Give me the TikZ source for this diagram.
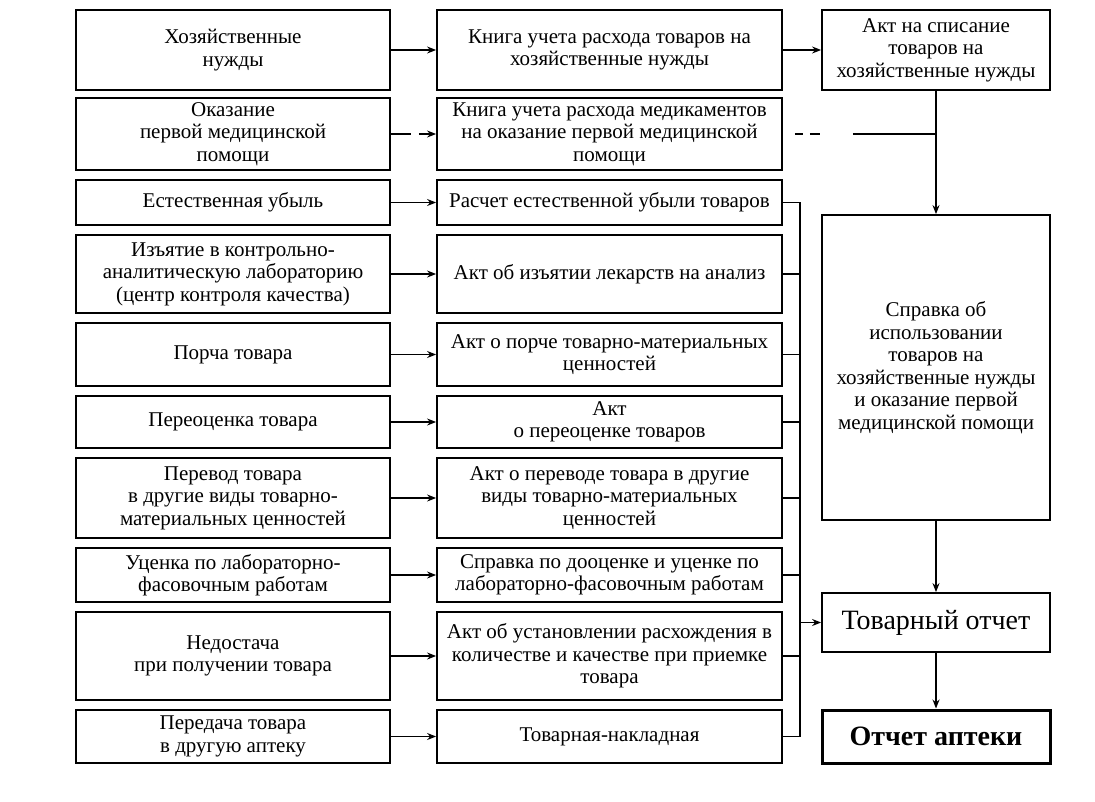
\documentclass[tikz,border=0pt]{standalone}
\usepackage{fontspec}
\setmainfont{Liberation Serif}
\usepackage{tikz}
\usetikzlibrary{arrows.meta}

\begin{document}
\begin{tikzpicture}[x=1pt,y=-1pt,
    box/.style={draw, line width=1.8pt, align=center, inner sep=0pt,
                font=\fontsize{21}{22.5}\selectfont},
    lcol/.style={box, minimum width=314pt},
    mcol/.style={box, minimum width=345pt},
    rcol/.style={box, minimum width=228pt},
    arr/.style={-{Stealth[length=9pt,width=7pt]}, line width=1.3pt},
    link/.style={line width=1.3pt},
    dashlink/.style={line width=1.3pt, dash pattern=on 0pt off 12pt on 8pt off 7pt on 10pt off 33pt on 90pt}]
    \useasboundingbox (0,0) rectangle (1095,801);
    % sources
    \node[lcol, minimum height=80pt] (src1) at (233,50) {Хозяйственные\\нужды};
    \node[lcol, minimum height=72pt] (src2) at (233,134) {Оказание\\первой медицинской\\помощи};
    \node[lcol, minimum height=45pt] (src3) at (233,202.5) {Естественная убыль};
    \node[lcol, minimum height=78pt] (src4) at (233,274) {Изъятие в контрольно-\\аналитическую лабораторию\\(центр контроля качества)};
    \node[lcol, minimum height=63pt] (src5) at (233,354.5) {Порча товара};
    \node[lcol, minimum height=52pt] (src6) at (233,422) {Переоценка товара};
    \node[lcol, minimum height=80pt] (src7) at (233,498) {Перевод товара\\в другие виды товарно-\\материальных ценностей};
    \node[lcol, minimum height=54pt] (src8) at (233,575) {Уценка по лабораторно-\\фасовочным работам};
    \node[lcol, minimum height=88pt] (src9) at (233,656) {Недостача\\при получении товара};
    \node[lcol, minimum height=53pt] (src10) at (233,736.5) {Передача товара\\в другую аптеку};
    % documents
    \node[mcol, minimum height=80pt] (doc1) at (609.5,50) {Книга учета расхода товаров на\\хозяйственные нужды};
    \node[mcol, minimum height=72pt] (doc2) at (609.5,134) {Книга учета расхода медикаментов\\на оказание первой медицинской\\помощи};
    \node[mcol, minimum height=45pt] (doc3) at (609.5,202.5) {Расчет естественной убыли товаров};
    \node[mcol, minimum height=78pt] (doc4) at (609.5,274) {Акт об изъятии лекарств на анализ};
    \node[mcol, minimum height=63pt] (doc5) at (609.5,354.5) {Акт о порче товарно-материальных\\ценностей};
    \node[mcol, minimum height=52pt] (doc6) at (609.5,422) {Акт\\о переоценке товаров};
    \node[mcol, minimum height=80pt] (doc7) at (609.5,498) {Акт о переводе товара в другие\\виды товарно-материальных\\ценностей};
    \node[mcol, minimum height=54pt] (doc8) at (609.5,575) {Справка по дооценке и уценке по\\лабораторно-фасовочным работам};
    \node[mcol, minimum height=88pt] (doc9) at (609.5,656) {Акт об установлении расхождения в\\количестве и качестве при приемке\\товара};
    \node[mcol, minimum height=53pt] (doc10) at (609.5,736.5) {Товарная-накладная};
    % reports
    \node[rcol, minimum height=80pt] (akt) at (936,50) {Акт на списание\\товаров на\\хозяйственные нужды};
    \node[rcol, minimum height=305pt] (spravka) at (936,367.5) {Справка об\\использовании\\товаров на\\хозяйственные нужды\\и оказание первой\\медицинской помощи};
    \node[rcol, minimum height=59pt, font=\fontsize{28}{30}\selectfont] (tovotch) at (936,622.5) {Товарный отчет};
    \node[rcol, minimum height=53pt, line width=3pt, font=\fontsize{28}{30}\selectfont\bfseries] (otchet) at (936,736.5) {Отчет аптеки};
    % arrows to documents
    \draw[arr] (src1) -- (doc1);
    \draw[arr, dash pattern=on 20pt off 8pt on 30pt] (src2) -- (doc2);
    \draw[arr] (src3) -- (doc3);
    \draw[arr] (src4) -- (doc4);
    \draw[arr] (src5) -- (doc5);
    \draw[arr] (src6) -- (doc6);
    \draw[arr] (src7) -- (doc7);
    \draw[arr] (src8) -- (doc8);
    \draw[arr] (src9) -- (doc9);
    \draw[arr] (src10) -- (doc10);
    % collecting line
    \coordinate (bustop) at (800,202.5);
    \coordinate (busbot) at (800,736.5);
    \draw[link] (doc3.east) -- (bustop) -- (busbot) -- (doc10.east);
    \draw[link] (doc4.east) -- (doc4.east -| bustop);
    \draw[link] (doc5.east) -- (doc5.east -| bustop);
    \draw[link] (doc6.east) -- (doc6.east -| bustop);
    \draw[link] (doc7.east) -- (doc7.east -| bustop);
    \draw[link] (doc8.east) -- (doc8.east -| bustop);
    \draw[link] (doc9.east) -- (doc9.east -| bustop);
    \draw[arr] (bustop |- tovotch) -- (tovotch.west);
    % right column
    \draw[arr] (doc1) -- (akt);
    \draw[arr] (akt) -- (spravka);
    \draw[dashlink] (doc2.east) -- (doc2.east -| akt.south);
    \draw[arr] (spravka) -- (tovotch);
    \draw[arr] (tovotch) -- (otchet);
\end{tikzpicture}
\end{document}
